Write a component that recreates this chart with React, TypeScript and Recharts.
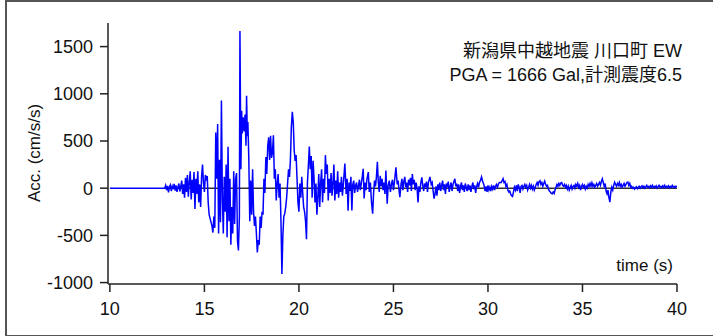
import { LineChart, Line, XAxis, YAxis, ReferenceLine } from "recharts"

// acceleration record, [time (s), acc (cm/s/s)]
const preEvent: [number, number][] = [
  [10, 0], [12.85, 0], [12.9, 0],
]

const earlyMotion: [number, number][] = [
  [12.95, 30], [13.0, -20], [13.05, 25], [13.1, -45], [13.15, 15], [13.2, 35], [13.25, -30],
  [13.3, 20], [13.35, -10], [13.4, 45], [13.45, -25], [13.5, 30], [13.55, -40], [13.6, 10],
  [13.65, 50], [13.7, -35], [13.75, 20], [13.8, 80], [13.85, -60], [13.9, 40], [13.95, -100],
  [14.0, 110], [14.05, -40], [14.1, 140], [14.15, -90], [14.2, 60], [14.25, 180], [14.3, -120],
  [14.35, 90], [14.4, -50], [14.45, 170], [14.5, -220], [14.55, 100], [14.6, -60], [14.65, 180],
  [14.7, -150], [14.75, 40], [14.8, -200], [14.85, 120], [14.9, 250], [14.95, 60], [15.0, -40],
  [15.05, 140], [15.1, 80], [15.15, 130],
]

const strongMotion: [number, number][] = [
  [15.2, -150], [15.25, -280], [15.3, -320], [15.35, -360], [15.4, -400], [15.45, -470],
  [15.5, -300], [15.55, -420], [15.6, 590], [15.65, 100], [15.7, 680], [15.75, -480],
  [15.8, 300], [15.85, -360], [15.9, 930], [15.95, -100], [16.0, -480], [16.05, 120],
  [16.1, -250], [16.15, 250], [16.2, -520], [16.25, 440], [16.3, -350], [16.35, 100],
  [16.4, -600], [16.45, -200], [16.5, -480], [16.55, 180], [16.6, -380], [16.65, 100],
  [16.7, 160], [16.75, -560], [16.8, -660], [16.85, -300], [16.88, 1666], [16.93, 200],
  [16.97, 820], [17.0, 580], [17.05, 750], [17.1, 600], [17.15, 780], [17.2, 450],
  [17.23, 980], [17.27, 550], [17.3, 700], [17.35, 300], [17.4, -350], [17.45, 80],
  [17.5, -280], [17.55, 200], [17.6, -250], [17.65, -400], [17.7, -300], [17.75, -480],
  [17.8, -680], [17.85, -550], [17.9, -600], [17.95, -300], [18.0, -420], [18.05, -250],
  [18.1, -280], [18.15, 100], [18.2, -50], [18.25, 330], [18.3, 150], [18.35, 450],
  [18.4, 540], [18.45, 300], [18.5, 555], [18.55, 320], [18.6, 380], [18.65, 560],
  [18.7, 100], [18.75, 200], [18.8, -130], [18.85, 50], [18.9, 150], [18.95, -100],
  [19.0, 50], [19.05, -350], [19.1, -910], [19.15, -500], [19.2, -300], [19.25, -270],
  [19.3, -200], [19.35, -100], [19.4, 50], [19.45, 200], [19.5, 120], [19.55, 300],
  [19.6, 650], [19.65, 810], [19.7, 700], [19.75, 400], [19.8, 290], [19.85, 350],
  [19.9, 100], [19.95, -150], [20.0, -250], [20.05, 50], [20.1, -100], [20.15, 120],
  [20.2, -50], [20.25, -200], [20.3, -250], [20.35, -350], [20.4, -540], [20.45, 60],
  [20.5, 240], [20.55, 440], [20.6, 200], [20.65, 340], [20.7, -100], [20.75, 290],
  [20.8, 100], [20.85, -150], [20.9, 50], [20.95, -280], [21.0, -100], [21.05, 150],
  [21.1, -200], [21.15, 60], [21.2, 200], [21.25, -150], [21.3, 100], [21.35, -50],
  [21.4, 350], [21.45, 150], [21.5, 250], [21.55, -130], [21.6, 100], [21.65, -50],
  [21.7, 160], [21.75, -80], [21.8, 50], [21.85, 250], [21.9, -130], [21.95, 80],
]

const coda: [number, number][] = [
  [22.0, -60], [22.05, 180], [22.1, -100], [22.15, 60], [22.2, -40], [22.25, 120], [22.3, -80],
  [22.35, 40], [22.43, 260], [22.5, -60], [22.55, 100], [22.6, -240], [22.65, 60], [22.7, -30],
  [22.75, 120], [22.8, -235], [22.85, 40], [22.9, 80], [22.95, -50], [23.0, 30], [23.05, 60],
  [23.1, -40], [23.15, 20], [23.2, 90], [23.25, -20], [23.3, 50], [23.35, 120], [23.4, 205],
  [23.45, -110], [23.5, 60], [23.55, -20], [23.6, 100], [23.67, 170], [23.72, -40], [23.78, 60],
  [23.84, -150], [23.9, -270], [23.95, -50], [24.0, 80], [24.05, 20], [24.1, 120], [24.15, 280],
  [24.2, 60], [24.25, -40], [24.3, 130], [24.35, 20], [24.4, 100], [24.45, -20], [24.5, 60],
  [24.55, -60], [24.6, 187], [24.67, -165], [24.72, 30], [24.78, 80], [24.84, -40], [24.9, 50],
  [24.95, 90], [25.0, -20], [25.05, 60], [25.13, 222], [25.2, 40], [25.25, 80], [25.3, -30],
  [25.34, -95], [25.4, 40], [25.45, 100], [25.5, -20], [25.55, 70], [25.6, 120], [25.65, 10],
  [25.7, 60], [25.75, -40], [25.8, 90], [25.85, 30], [25.9, 110], [25.95, -30], [26.0, 150],
  [26.05, 40], [26.1, 90], [26.15, -20], [26.2, 60], [26.25, 0], [26.3, -150], [26.35, 20],
  [26.4, -40], [26.45, 60], [26.5, 115], [26.55, 30], [26.6, -30], [26.65, 50], [26.7, 10],
  [26.75, 70], [26.8, -40], [26.85, 60], [26.93, 120], [27.0, 40], [27.05, 60], [27.1, -30],
  [27.15, -110], [27.2, -60], [27.25, 20], [27.3, -80], [27.35, 40], [27.4, -20], [27.45, 60],
  [27.5, -30], [27.55, 30], [27.6, 80], [27.65, -20], [27.7, 40], [27.75, -60], [27.8, 50],
  [27.85, 10], [27.9, 70], [27.95, -40], [28.0, 20], [28.05, 60], [28.1, -30], [28.15, 40],
  [28.25, 100], [28.3, 20], [28.35, 50], [28.4, -30], [28.45, 40], [28.5, -50], [28.55, 20],
  [28.6, 60], [28.65, -20], [28.7, 30], [28.75, -40], [28.8, 50], [28.85, 10], [28.9, -30],
  [28.95, 40], [29.0, -20], [29.05, 30], [29.1, -40], [29.15, 20], [29.2, 60], [29.25, -10],
  [29.3, 30], [29.35, -50], [29.4, 20], [29.45, 50], [29.5, 10], [29.55, 60], [29.6, 80],
  [29.66, 120], [29.72, 70], [29.78, 40], [29.85, -30], [29.9, 20], [29.95, -40],
]

const tail: [number, number][] = [
  [30.0, 30], [30.05, -20], [30.1, 10], [30.15, -30], [30.2, 20], [30.25, -10], [30.3, 30],
  [30.35, -20], [30.4, 20], [30.45, 40], [30.5, 10], [30.55, 40], [30.6, 60], [30.7, 60],
  [30.75, 80], [30.8, 100], [30.85, 60], [30.9, 70], [30.95, 20], [31.0, 40], [31.05, -20],
  [31.1, -40], [31.15, -30], [31.2, -60], [31.25, -80], [31.3, -88], [31.35, -40], [31.4, 10],
  [31.45, -20], [31.5, 30], [31.55, -30], [31.6, 40], [31.65, 10], [31.7, -50], [31.75, 20],
  [31.8, 30], [31.85, -10], [31.9, 20], [31.95, 40], [32.0, 10], [32.05, 30], [32.1, -20],
  [32.15, 10], [32.2, 40], [32.25, 0], [32.3, 30], [32.35, -10], [32.4, 20], [32.45, -20],
  [32.5, 10], [32.55, 40], [32.6, 60], [32.65, 30], [32.7, 70], [32.75, 80], [32.8, 40],
  [32.85, 60], [32.9, 20], [32.95, 50], [33.0, 75], [33.05, 40], [33.1, 20], [33.15, 30],
  [33.2, -10], [33.25, -30], [33.3, -40], [33.35, -55], [33.4, -60], [33.45, -40], [33.5, -55],
  [33.55, -20], [33.6, 10], [33.65, 40], [33.7, 20], [33.75, 50], [33.8, 30], [33.85, 55],
  [33.9, 60], [33.95, 30], [34.0, 20], [34.05, 40], [34.1, 10], [34.15, 30], [34.2, -10],
  [34.25, 20], [34.3, -20], [34.35, 10], [34.4, 30], [34.45, -10], [34.5, 20], [34.55, 30],
  [34.6, 0], [34.65, 40], [34.7, 20], [34.75, 50], [34.8, 10], [34.85, 30], [34.9, -20],
  [34.95, 20], [35.0, 40], [35.05, 10], [35.1, 30], [35.15, -10], [35.2, 20], [35.25, 0],
  [35.3, 40], [35.35, 20], [35.4, 50], [35.45, 20], [35.5, 56], [35.55, 20], [35.6, 40],
  [35.65, 10], [35.7, 30], [35.75, 50], [35.8, 20], [35.85, 40], [35.9, 60], [35.95, 30],
  [36.0, 70], [36.05, 99], [36.1, 60], [36.15, 20], [36.2, 50], [36.25, -30], [36.3, -60],
  [36.35, -20], [36.4, -100], [36.45, -148], [36.5, -40], [36.55, 10], [36.6, -20], [36.65, 30],
  [36.7, 63], [36.75, 40], [36.8, 20], [36.85, 50], [36.9, 30], [36.95, 60], [37.0, 20],
  [37.05, 40], [37.1, 10], [37.15, 30], [37.2, 50], [37.25, 20], [37.3, 40], [37.35, 60],
  [37.4, 65], [37.45, 30], [37.5, 50], [37.55, 10], [37.6, 20], [37.65, 0], [37.7, 10],
  [37.75, -10], [37.8, 5], [37.85, 15], [37.9, -5], [37.95, 10], [38.0, 20], [38.05, 0],
  [38.1, 15], [38.15, 25], [38.2, 5], [38.25, 20], [38.3, 0], [38.35, 15], [38.4, 30],
  [38.45, 10], [38.5, 20], [38.55, 5], [38.6, 25], [38.65, 10], [38.7, 30], [38.75, 5],
  [38.8, 20], [38.85, 10], [38.9, 25], [38.95, 0], [39.0, 15], [39.05, 30], [39.1, 10],
  [39.15, 20], [39.2, 5], [39.25, 25], [39.3, 10], [39.35, 30], [39.4, 5], [39.45, 20],
  [39.5, 10], [39.55, 25], [39.6, 5], [39.65, 20], [39.7, 10], [39.75, 30], [39.8, 10],
  [39.85, 20], [39.9, 5], [39.95, 20], [40.0, 15],
]

const timeTicks = [10, 15, 20, 25, 30, 35, 40]
const accTicks = [-1000, -500, 0, 500, 1000, 1500]

const titleLines = ["新潟県中越地震 川口町 EW", "PGA = 1666 Gal,計測震度6.5"]

const font = '"Liberation Sans", "Noto Sans CJK JP", sans-serif'

const data = [...preEvent, ...earlyMotion, ...strongMotion, ...coda, ...tail].map(([t, a]) => ({ t, a }))

export default function App() {
  return (
    <div style={{ position: "absolute", left: 0, top: 0, width: 713, height: 336, background: "#fff" }}>
      <div
        style={{
          position: "absolute",
          left: 5,
          top: 0,
          width: 706,
          height: 333,
          border: "2px solid #555",
          boxSizing: "content-box",
        }}
      />
      <LineChart
        width={713}
        height={336}
        data={data}
        margin={{ top: 23, right: 36, bottom: 22, left: 0 }}
        style={{ position: "absolute", left: 0, top: 0 }}
      >
        <XAxis
          dataKey="t"
          type="number"
          domain={[9.9, 40]}
          ticks={timeTicks}
          allowDataOverflow
          height={30}
          tickSize={8}
          tickMargin={10}
          axisLine={{ stroke: "#222", strokeWidth: 1.5 }}
          tickLine={{ stroke: "#222", strokeWidth: 1.5 }}
          tick={{ fontSize: 18, fill: "#111", fontFamily: font }}
        />
        <YAxis
          type="number"
          domain={[-1015, 1750]}
          ticks={accTicks}
          allowDataOverflow
          width={108}
          tickSize={8}
          tickMargin={7}
          axisLine={{ stroke: "#222", strokeWidth: 1.5 }}
          tickLine={{ stroke: "#222", strokeWidth: 1.5 }}
          tick={{ fontSize: 18, fill: "#111", fontFamily: font }}
        />
        <ReferenceLine segment={[{ x: 12.85, y: 0 }, { x: 40, y: 0 }]} stroke="#333" strokeWidth={1.5} />
        <Line
          dataKey="a"
          type="linear"
          stroke="#0000ff"
          strokeWidth={1.5}
          dot={false}
          isAnimationActive={false}
        />
        <text x={34} y={153} transform="rotate(-90 34 153)" textAnchor="middle" dominantBaseline="central" fontSize={17} fill="#111" fontFamily={font}>
          Acc. (cm/s/s)
        </text>
        <text x={673} y={271} textAnchor="end" fontSize={17} fill="#111" fontFamily={font}>
          time (s)
        </text>
        {titleLines.map((line, i) => (
          <text key={line} x={682} y={57 + i * 24} textAnchor="end" fontSize={18} fill="#111" fontFamily={font}>
            {line}
          </text>
        ))}
      </LineChart>
    </div>
  )
}
